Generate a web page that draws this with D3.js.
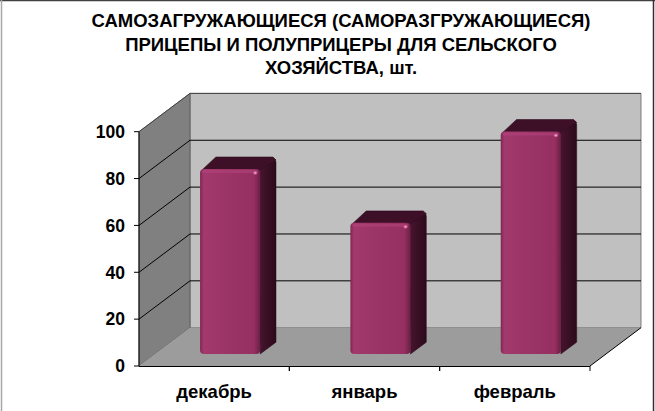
<!DOCTYPE html>
<html><head><meta charset="utf-8">
<script src="https://cdn.jsdelivr.net/npm/d3@7/dist/d3.min.js"></script>
<style>html,body{margin:0;padding:0;background:#fff;}svg{display:block;}</style>
</head><body>
<script>
const titleLines = ["САМОЗАГРУЖАЮЩИЕСЯ (САМОРАЗГРУЖАЮЩИЕСЯ)", "ПРИЦЕПЫ И ПОЛУПРИЦЕРЫ ДЛЯ СЕЛЬСКОГО", "ХОЗЯЙСТВА, шт."];
const categories = ["декабрь", "январь", "февраль"];
const values = [79, 56, 95];
const yTicks = [0, 20, 40, 60, 80, 100];

const W = 655, H = 411;
const svg = d3.select("body").append("svg").attr("width", W).attr("height", H);
const font = "'Liberation Sans', Arial, sans-serif";

const x0 = 139, x1 = 590;
const DX = 51, DY = 38.3;
const y = d3.scaleLinear().domain([0, 100]).range([366, 131.7]);
const x = d3.scaleBand().domain(categories).range([x0, x1]).paddingInner(0.6).paddingOuter(0.3);
const xStep = d3.scaleBand().domain(categories).range([x0, x1]);
const P = (px, v, d) => [px + d * DX, y(v) - d * DY];
const poly = pts => "M" + pts.map(p => p.join(",")).join("L") + "Z";

const defs = svg.append("defs");
const gF = defs.append("linearGradient").attr("id", "front").attr("x1", 0).attr("x2", 1).attr("y1", 0).attr("y2", 0);
[[0, "#7e2752"], [0.06, "#a3396d"], [0.5, "#9a3366"], [0.9, "#962f62"], [1, "#6a1f44"]].forEach(s => gF.append("stop").attr("offset", s[0]).attr("stop-color", s[1]));
const gS = defs.append("linearGradient").attr("id", "side").attr("x1", 0).attr("x2", 1).attr("y1", 0).attr("y2", 0);
[[0, "#4a1530"], [0.5, "#3a1025"], [1, "#2c0a1b"]].forEach(s => gS.append("stop").attr("offset", s[0]).attr("stop-color", s[1]));
const gH = defs.append("radialGradient").attr("id", "hl");
[[0, "#ffd0e6", 1], [0.5, "#e070a8", 0.7], [1, "#a3396d", 0]].forEach(s => gH.append("stop").attr("offset", s[0]).attr("stop-color", s[1]).attr("stop-opacity", s[2]));

// border
svg.append("line").attr("x1", 0).attr("x2", W).attr("y1", 0.5).attr("y2", 0.5).attr("stroke", "#404040").attr("stroke-width", 1.5);
svg.append("line").attr("x1", 1.5).attr("x2", 1.5).attr("y1", 0).attr("y2", H).attr("stroke", "#a8a8a8").attr("stroke-width", 1.5);
svg.append("line").attr("x1", 653.5).attr("x2", 653.5).attr("y1", 0).attr("y2", H).attr("stroke", "#303030").attr("stroke-width", 1.5);

// title
svg.append("text").attr("x", 341).attr("y", 27).attr("text-anchor", "middle")
  .attr("font-family", font).attr("font-weight", "bold").attr("font-size", 18.5).attr("fill", "#000")
  .selectAll("tspan").data(titleLines).join("tspan")
  .attr("x", 341).attr("dy", (d, i) => i === 0 ? 0 : 23.5).text(d => d);

// walls
svg.append("path").attr("d", poly([P(x0, 0, 1), P(x1, 0, 1), P(x1, 100, 1), P(x0, 100, 1)]))
  .attr("fill", "#c0c0c0").attr("stroke", "#666").attr("stroke-width", 0.8);
svg.append("path").attr("d", poly([P(x0, 0, 0), P(x0, 0, 1), P(x0, 100, 1), P(x0, 100, 0)]))
  .attr("fill", "#808080").attr("stroke", "#555").attr("stroke-width", 0.8);
svg.append("path").attr("d", poly([P(x0, 0, 0), P(x1, 0, 0), P(x1, 0, 1), P(x0, 0, 1)]))
  .attr("fill", "#9c9c9c");
// floor edges
svg.append("path").attr("d", "M" + P(x1, 0, 0).join(",") + "L" + P(x1, 0, 1).join(","))
  .attr("stroke", "#000").attr("stroke-width", 1).attr("fill", "none");

// gridlines
yTicks.filter(v => v > 0).forEach(v => {
  svg.append("path").attr("d", "M" + P(x0, v, 0).join(",") + "L" + P(x0, v, 1).join(",") + "L" + P(x1, v, 1).join(","))
    .attr("fill", "none").attr("stroke", v === 100 ? "#444" : "#000").attr("stroke-width", 1);
});

// axes
svg.append("line").attr("x1", x0).attr("x2", x0).attr("y1", y(0)).attr("y2", y(100)).attr("stroke", "#000");
svg.append("line").attr("x1", x0).attr("x2", x1).attr("y1", y(0) + 0.5).attr("y2", y(0) + 0.5).attr("stroke", "#000").attr("stroke-width", 1.2);
yTicks.forEach(v => {
  svg.append("line").attr("x1", x0 - 5).attr("x2", x0).attr("y1", y(v)).attr("y2", y(v)).attr("stroke", "#000");
  svg.append("text").attr("x", 125).attr("y", y(v) + 6.3).attr("text-anchor", "end")
    .attr("font-family", font).attr("font-weight", "bold").attr("font-size", 17.5).text(v);
});
categories.forEach((c, i) => {
  const xb = xStep(c);
  [xb, xb + xStep.bandwidth()].forEach(xt => {
    if (xt > x0 + 1) svg.append("line").attr("x1", xt).attr("x2", xt).attr("y1", y(0)).attr("y2", y(0) + 5).attr("stroke", "#000");
  });
  svg.append("text").attr("x", xb + xStep.bandwidth() / 2).attr("y", 398).attr("text-anchor", "middle")
    .attr("font-family", font).attr("font-weight", "bold").attr("font-size", 18.5).text(c);
});

// bars
const f0 = 0.313, bd = 0.31;
categories.forEach((c, i) => {
  const v = values[i];
  const bx = x(c), bw = x.bandwidth();
  const fl = P(bx, 0, f0), ft = P(bx, v, f0);
  const xl = fl[0], xr = fl[0] + bw, yb = fl[1], yt = ft[1];
  const ox = bd * DX, oy = bd * DY;
  const g = svg.append("g");
  g.append("path").attr("d", poly([[xr - 2, yt + 2], [xr + ox - 1, yt - oy + 2], [xr + ox, yt - oy + 5], [xr + ox, yb - oy], [xr, yb]]))
    .attr("fill", "url(#side)").attr("stroke", "#2c0a1b").attr("stroke-width", 0.5).attr("stroke-linejoin", "round");
  g.append("path").attr("d", poly([[xl + 2, yt + 1], [xl + ox, yt - oy], [xr + ox - 3, yt - oy], [xr + ox, yt - oy + 3], [xr - 2, yt + 2]]))
    .attr("fill", "#3e1028").attr("stroke", "#2e0b1c").attr("stroke-width", 0.6).attr("stroke-linejoin", "round");
  g.append("rect").attr("x", xl).attr("y", yt).attr("width", bw).attr("height", yb - yt)
    .attr("rx", 4).attr("fill", "url(#front)");
  g.append("rect").attr("x", xl + 2).attr("y", yt + 1).attr("width", bw - 4).attr("height", 3)
    .attr("rx", 1.5).attr("fill", "#b2447b").attr("opacity", 0.6);
  g.append("ellipse").attr("cx", xr - 5).attr("cy", yt + 4).attr("rx", 3).attr("ry", 2.5).attr("fill", "url(#hl)");
});
</script>
</body></html>
